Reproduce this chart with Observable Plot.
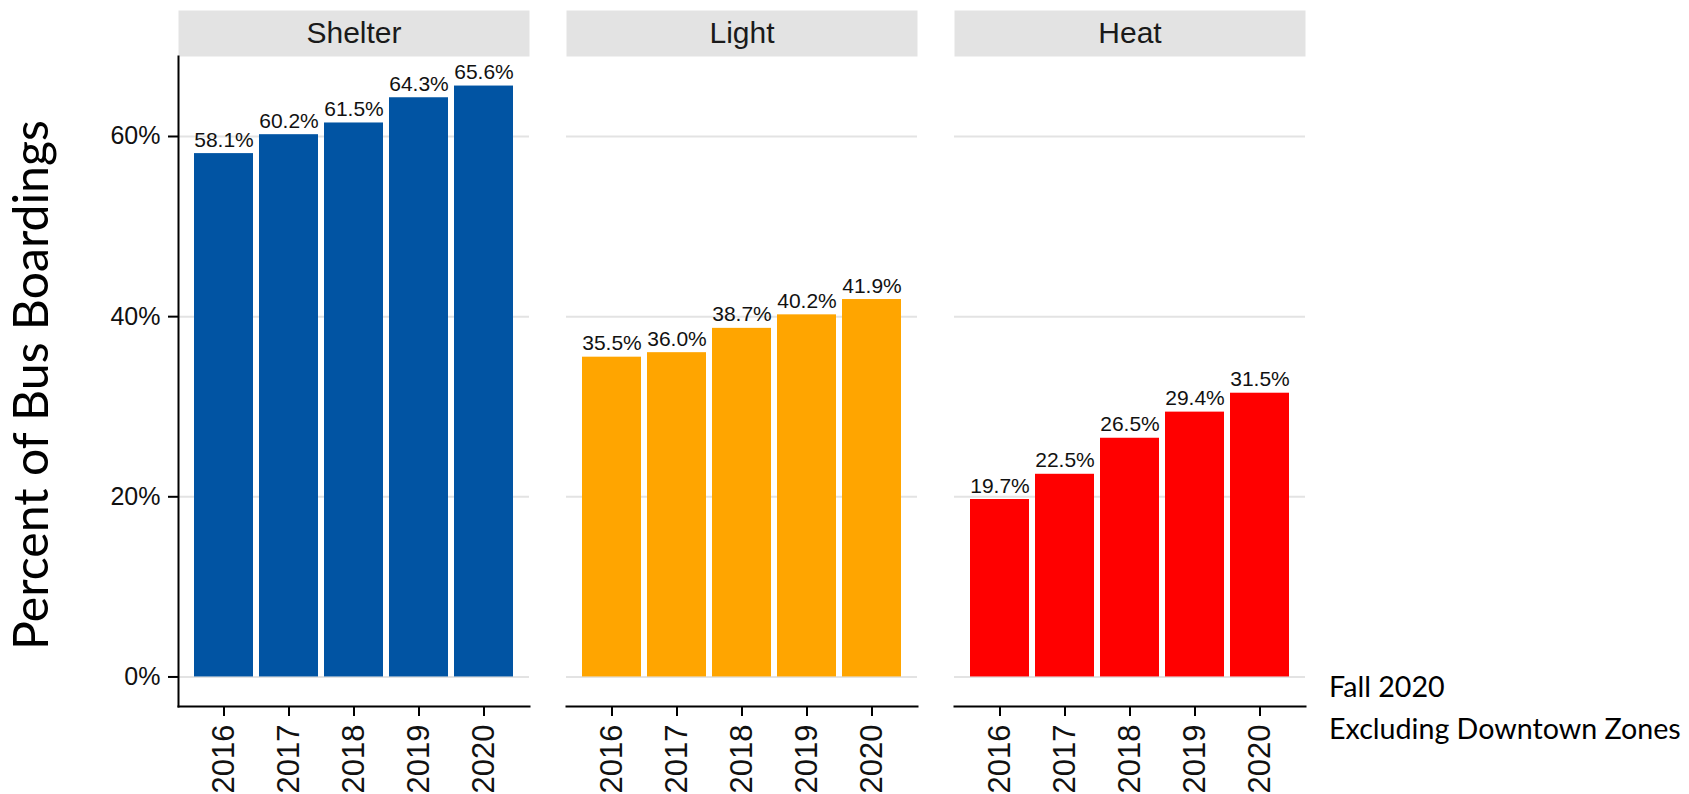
<!DOCTYPE html>
<html>
<head>
<meta charset="utf-8">
<script src="https://cdn.jsdelivr.net/npm/d3@7"></script>
<script src="https://cdn.jsdelivr.net/npm/@observablehq/plot@0.6"></script>
<style>
  html, body { margin: 0; padding: 0; background: #fff; }
  #chart { position: relative; width: 1689px; height: 794px; overflow: hidden; }
</style>
</head>
<body>
<div id="chart"></div>
<script>
// ---- data ----
const categories = ["Shelter", "Light", "Heat"];
const colors = ["#0154A3", "#FFA500", "#FF0000"];
const years = ["2016", "2017", "2018", "2019", "2020"];
const shelterValues = [58.1, 60.2, 61.5, 64.3, 65.6];
const lightValues = [35.5, 36.0, 38.7, 40.2, 41.9];
const heatValues = [19.7, 22.5, 26.5, 29.4, 31.5];
const yTicks = [0, 20, 40, 60];
const yTitle = "Percent of Bus Boardings";
const captionLines = ["Fall 2020", "Excluding Downtown Zones"];

const seriesValues = [shelterValues, lightValues, heatValues];
const data = categories.flatMap((c, i) =>
  years.map((yr, j) => ({facet: c, year: yr, value: seriesValues[i][j]}))
);

// ggplot-style 5% expansion of the continuous y scale
const vMax = d3.max(data, d => d.value);
const pad = vMax * 0.05;
const yDomain = [0 - pad, vMax + pad];

const W = 1689, H = 794;
const mTop = 56, mBottom = 88, mLeft = 178, mRight = 383;
const frameH = H - mTop - mBottom;
const stripH = 46;

const plot = Plot.plot({
  width: W,
  height: H,
  marginTop: mTop,
  marginBottom: mBottom,
  marginLeft: mLeft,
  marginRight: mRight,
  style: {fontFamily: "'Liberation Sans', Arial, sans-serif", background: "white", color: "black", overflow: "visible"},
  fx: {domain: categories, paddingInner: 0.095, paddingOuter: 0, axis: null, label: null},
  x: {domain: years, paddingInner: 0.1, paddingOuter: 0.22, axis: null, label: null},
  y: {domain: yDomain, axis: null, label: null},
  color: {domain: categories, range: colors},
  marks: [
    // facet strips
    Plot.frame({fill: "#E3E3E3", stroke: null, insetTop: -stripH, insetBottom: frameH}),
    Plot.text(categories, {fx: d => d, text: d => d, frameAnchor: "top", dy: -stripH / 2, fontSize: 30, fill: "#1a1a1a", lineAnchor: "middle"}),
    // grid
    Plot.gridY(yTicks, {stroke: "#E3E3E3", strokeOpacity: 1, strokeWidth: 2}),
    // bars
    Plot.barY(data, {fx: "facet", x: "year", y: "value", fill: "facet"}),
    Plot.text(data, {fx: "facet", x: "year", y: "value", text: d => d.value.toFixed(1) + "%", dy: -7, lineAnchor: "bottom", fontSize: 21, fill: "#111"}),
    // axes
    Plot.axisY(yTicks, {tickFormat: d => d + "%", fontSize: 25, tickSize: 10, tickPadding: 8, strokeWidth: 2, label: null, fill: "#111"}),
    Plot.axisX({tickRotate: -90, fontSize: 31, tickSize: 10, tickPadding: 8, strokeWidth: 2, label: null, fill: "#111"}),
    Plot.frame({anchor: "left", facetAnchor: "left", stroke: "black", strokeWidth: 2}),
    Plot.frame({anchor: "bottom", stroke: "black", strokeWidth: 2})
  ]
});

document.getElementById("chart").appendChild(plot);

// y-axis title and caption (Calibri-like face)
const svg = d3.select(plot);
function fitText(sel, target) {
  const len = sel.node().getComputedTextLength();
  const fs = parseFloat(sel.attr("font-size"));
  if (len > 0) sel.attr("font-size", fs * target / len);
}
const title = svg.append("text")
  .attr("transform", "translate(48,385) rotate(-90)")
  .attr("text-anchor", "middle")
  .attr("font-family", "Lato, 'Open Sans', sans-serif")
  .attr("font-size", 48)
  .attr("fill", "#000")
  .text(yTitle);
fitText(title, 530);

const cap2 = svg.append("text")
  .attr("x", 1329).attr("y", 739)
  .attr("text-anchor", "start")
  .attr("font-family", "Lato, 'Open Sans', sans-serif")
  .attr("font-size", 30)
  .attr("fill", "#000")
  .text(captionLines[1]);
fitText(cap2, 352);
svg.append("text")
  .attr("x", 1329).attr("y", 697)
  .attr("text-anchor", "start")
  .attr("font-family", "Lato, 'Open Sans', sans-serif")
  .attr("font-size", cap2.attr("font-size"))
  .attr("fill", "#000")
  .text(captionLines[0]);
</script>
</body>
</html>
